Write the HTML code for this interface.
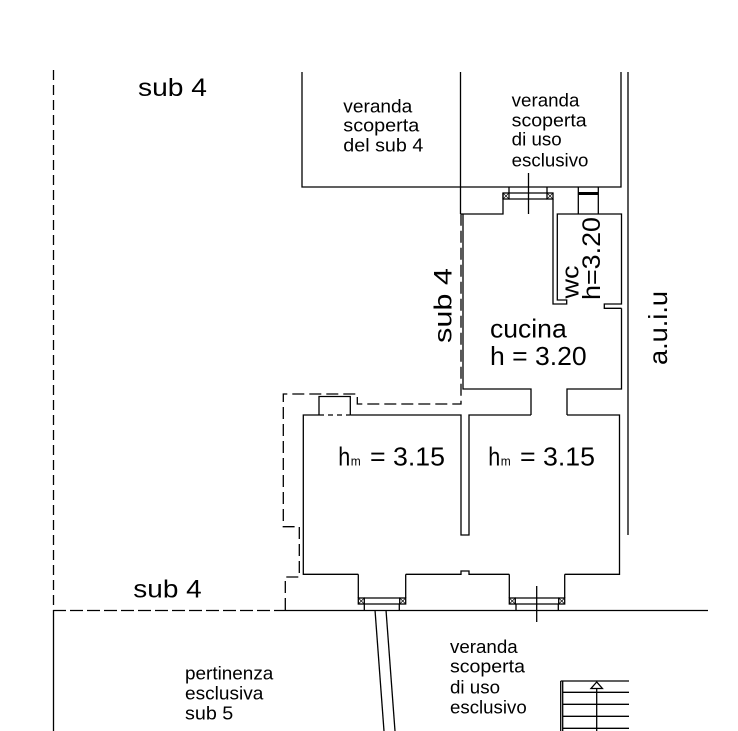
<!DOCTYPE html>
<html><head><meta charset="utf-8"><style>
html,body{margin:0;padding:0;background:#fff;}
svg{display:block;}
text{font-family:"Liberation Sans",Arial,sans-serif;fill:#000;}
</style></head><body>
<svg width="738" height="731" viewBox="0 0 738 731" xmlns="http://www.w3.org/2000/svg">
<g fill="none" stroke="#000" stroke-width="1.3">
<!-- left boundary -->
<line x1="53.5" y1="70" x2="53.5" y2="610" stroke-dasharray="10 5"/>
<line x1="53.5" y1="610" x2="53.5" y2="731"/>
<!-- ground line -->
<line x1="53" y1="610.5" x2="285" y2="610.5" stroke-dasharray="13 4"/>
<line x1="285" y1="610.5" x2="708" y2="610.5"/>
<!-- dashed outline -->
<path d="M285.3,610 V577 H299.3 V526.7 H283.3 V394 H357.3 V404 H461 V214" stroke-dasharray="12 5"/>
<!-- top verandas -->
<path d="M302,72 V187 H621 V72"/>
<line x1="460.5" y1="72" x2="460.5" y2="214"/>
<line x1="628" y1="72" x2="628" y2="535"/>
<!-- top window -->
<path d="M461,214 H503 V193"/>
<rect x="503" y="193" width="6" height="6"/>
<rect x="547" y="193" width="6" height="6"/>
<path d="M503,193 L509,199 M509,193 L503,199 M547,193 L553,199 M553,193 L547,199" stroke-width="0.7"/>
<line x1="509" y1="193" x2="547" y2="193"/>
<line x1="509" y1="199" x2="547" y2="199"/>
<line x1="509" y1="187" x2="509" y2="193"/>
<line x1="547" y1="187" x2="547" y2="193"/>
<line x1="528.5" y1="173" x2="528.5" y2="214"/>
<!-- vent -->
<line x1="578.3" y1="187" x2="578.3" y2="214"/>
<line x1="598.3" y1="187" x2="598.3" y2="214"/>
<line x1="578.3" y1="193.5" x2="598.3" y2="193.5" stroke-width="3"/>
<!-- wc -->
<path d="M553,199 V304 H566.7 V300 H557.3 V214 H621.5 V304 H604.3 V308.3 H621.5"/>
<!-- cucina -->
<path d="M463,214 V389 H531 V415"/>
<path d="M567,415 V389 H621.5 V308.3"/>
<!-- bedrooms -->
<path d="M319,415 H303.3 V574.3 H358.3"/>
<path d="M319,415 V396.5 H350.3 V415"/>
<line x1="319" y1="415" x2="350.3" y2="415" stroke-dasharray="5 4"/>
<path d="M350.3,415 H461 V535 H469 V415 H531"/>
<path d="M567,415 H619.5 V574.3 H564.7"/>
<path d="M405.7,574.3 H461 V571 H469 V574.3 H509.3"/>
<!-- bottom left window -->
<line x1="358.3" y1="574.3" x2="358.3" y2="598"/>
<line x1="405.7" y1="574.3" x2="405.7" y2="598"/>
<rect x="358.3" y="598" width="6" height="6"/>
<rect x="399.7" y="598" width="6" height="6"/>
<path d="M358.3,598 L364.3,604 M364.3,598 L358.3,604 M399.7,598 L405.7,604 M405.7,598 L399.7,604" stroke-width="0.7"/>
<line x1="364.3" y1="598" x2="399.7" y2="598"/>
<line x1="364.3" y1="604" x2="399.7" y2="604"/>
<line x1="364.3" y1="604" x2="364.3" y2="610"/>
<line x1="399.3" y1="604" x2="399.3" y2="610"/>
<!-- bottom right window -->
<line x1="509.3" y1="574.3" x2="509.3" y2="598"/>
<line x1="564.7" y1="574.3" x2="564.7" y2="598"/>
<rect x="509.3" y="598" width="6" height="6"/>
<rect x="558.7" y="598" width="6" height="6"/>
<path d="M509.3,598 L515.3,604 M515.3,598 L509.3,604 M558.7,598 L564.7,604 M564.7,598 L558.7,604" stroke-width="0.7"/>
<line x1="515.3" y1="598" x2="558.7" y2="598"/>
<line x1="515.3" y1="604" x2="558.7" y2="604"/>
<line x1="516" y1="604" x2="516" y2="610"/>
<line x1="558.3" y1="604" x2="558.3" y2="610"/>
<line x1="536.7" y1="586" x2="536.7" y2="622"/>
<!-- path lines -->
<line x1="375" y1="610" x2="384" y2="731"/>
<line x1="386" y1="610" x2="395" y2="731"/>
<!-- stairs -->
<line x1="560.7" y1="681" x2="560.7" y2="731"/>
<line x1="562.7" y1="681" x2="562.7" y2="731"/>
<line x1="560.7" y1="681" x2="629" y2="681"/>
<line x1="562.7" y1="692.3" x2="629" y2="692.3"/>
<line x1="562.7" y1="704.3" x2="629" y2="704.3"/>
<line x1="562.7" y1="716.3" x2="629" y2="716.3"/>
<line x1="562.7" y1="728.3" x2="629" y2="728.3"/>
<line x1="596.7" y1="688.5" x2="596.7" y2="731"/>
<path d="M596.7,682 L591,688.5 H602.4 Z"/>
</g>
<!-- texts -->
<text x="138" y="96" font-size="25" textLength="69" lengthAdjust="spacingAndGlyphs">sub 4</text>
<text x="133.3" y="597.3" font-size="25" textLength="68.4" lengthAdjust="spacingAndGlyphs">sub 4</text>

<g font-size="18">
<text x="343.3" y="112.3" textLength="69" lengthAdjust="spacingAndGlyphs">veranda</text>
<text x="343.3" y="131.7" textLength="76" lengthAdjust="spacingAndGlyphs">scoperta</text>
<text x="343.3" y="151.7" textLength="80" lengthAdjust="spacingAndGlyphs">del sub 4</text>

<text x="511.7" y="106.7" textLength="67.7" lengthAdjust="spacingAndGlyphs">veranda</text>
<text x="511.7" y="126.3" textLength="75" lengthAdjust="spacingAndGlyphs">scoperta</text>
<text x="511.7" y="145.7" textLength="50" lengthAdjust="spacingAndGlyphs">di uso</text>
<text x="511.7" y="166.3" textLength="76.7" lengthAdjust="spacingAndGlyphs">esclusivo</text>

<text x="450" y="653" textLength="67.7" lengthAdjust="spacingAndGlyphs">veranda</text>
<text x="450" y="672.5" textLength="75" lengthAdjust="spacingAndGlyphs">scoperta</text>
<text x="450" y="693.3" textLength="50" lengthAdjust="spacingAndGlyphs">di uso</text>
<text x="450" y="713.3" textLength="76.7" lengthAdjust="spacingAndGlyphs">esclusivo</text>

<text x="185" y="679.3" textLength="88.3" lengthAdjust="spacingAndGlyphs">pertinenza</text>
<text x="185" y="699.3" textLength="78.3" lengthAdjust="spacingAndGlyphs">esclusiva</text>
<text x="185" y="719.3" textLength="48.3" lengthAdjust="spacingAndGlyphs">sub 5</text>
</g>

<text x="490" y="337.7" font-size="26" textLength="76.7" lengthAdjust="spacingAndGlyphs">cucina</text>
<text x="490" y="365" font-size="26" textLength="96.7" lengthAdjust="spacingAndGlyphs">h = 3.20</text>

<text x="338.3" y="465.7" font-size="26" textLength="12" lengthAdjust="spacingAndGlyphs">h</text>
<text x="350.7" y="465.7" font-size="13" textLength="10" lengthAdjust="spacingAndGlyphs">m</text>
<text x="370" y="465.7" font-size="26" textLength="75" lengthAdjust="spacingAndGlyphs">= 3.15</text>

<text x="488.3" y="465.7" font-size="26" textLength="12" lengthAdjust="spacingAndGlyphs">h</text>
<text x="500.7" y="465.7" font-size="13" textLength="10" lengthAdjust="spacingAndGlyphs">m</text>
<text x="520" y="465.7" font-size="26" textLength="75" lengthAdjust="spacingAndGlyphs">= 3.15</text>

<text transform="translate(451.7,343) rotate(-90)" font-size="25" textLength="75" lengthAdjust="spacingAndGlyphs">sub 4</text>
<text transform="translate(578.3,298.5) rotate(-90)" font-size="24" textLength="33" lengthAdjust="spacingAndGlyphs">wc</text>
<text transform="translate(600,300) rotate(-90)" font-size="25" textLength="83" lengthAdjust="spacingAndGlyphs">h=3.20</text>
<text transform="translate(667,365) rotate(-90)" font-size="26" textLength="74" lengthAdjust="spacingAndGlyphs">a.u.i.u</text>
</svg>
</body></html>
